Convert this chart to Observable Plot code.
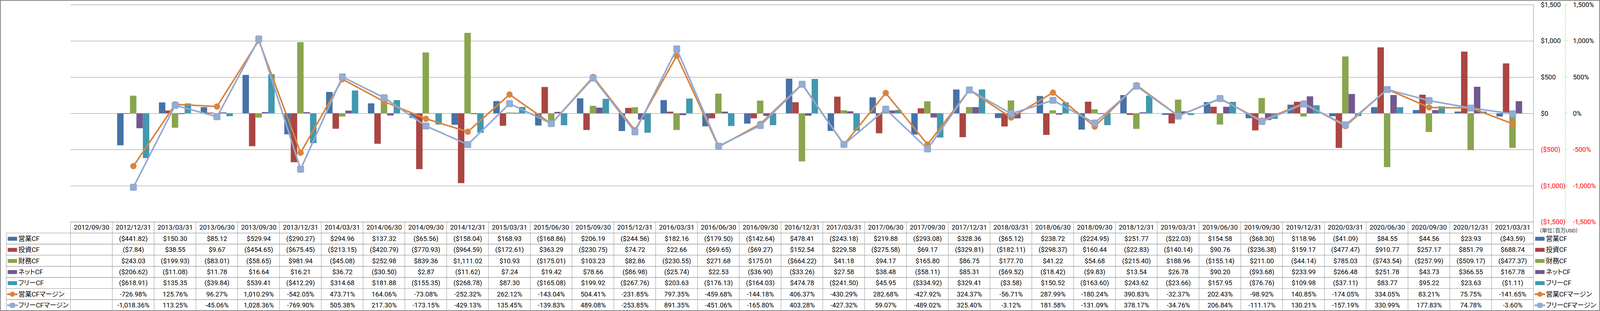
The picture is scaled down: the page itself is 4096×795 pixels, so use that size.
<!DOCTYPE html>
<html><head><meta charset="utf-8">
<script src="https://cdn.jsdelivr.net/npm/d3@7"></script>
<script src="https://cdn.jsdelivr.net/npm/@observablehq/plot@0.6"></script>
<style>
html,body{margin:0;padding:0;background:#fff;}
#wrap{position:relative;width:4096px;height:795px;overflow:hidden;background:#fff;}
#wrap svg{position:absolute;left:0;top:0;}
#wrap svg text{font-feature-settings:"palt";}
#border{position:absolute;left:0;top:0;width:4096px;height:795px;box-sizing:border-box;border:2px solid #868686;pointer-events:none;}
</style></head>
<body><div id="wrap"></div>
<script>
// ---------- data ----------
const dates = ["2012/09/30","2012/12/31","2013/03/31","2013/06/30","2013/09/30","2013/12/31","2014/03/31","2014/06/30","2014/09/30","2014/12/31","2015/03/31","2015/06/30","2015/09/30","2015/12/31","2016/03/31","2016/06/30","2016/09/30","2016/12/31","2017/03/31","2017/06/30","2017/09/30","2017/12/31","2018/03/31","2018/06/30","2018/09/30","2018/12/31","2019/03/31","2019/06/30","2019/09/30","2019/12/31","2020/03/31","2020/06/30","2020/09/30","2020/12/31","2021/03/31"];
const opCF = [null,-441.82,150.30,85.12,529.94,-290.27,294.96,137.32,-65.56,-158.04,168.93,-168.86,206.19,-244.56,182.16,-179.50,-142.64,478.41,-243.18,219.88,-293.08,328.36,-65.12,238.72,-224.95,251.77,-22.03,154.58,-68.30,118.96,-41.09,84.55,44.56,23.93,-43.59];
const invCF = [null,-7.84,38.55,9.67,-454.65,-675.45,-213.15,-420.79,-770.93,-964.59,-172.61,363.29,-230.75,74.72,22.66,-69.65,-69.27,152.54,229.58,-275.58,69.17,-329.81,-182.11,-298.37,160.44,-22.83,-140.14,90.76,-236.38,159.17,-477.47,910.77,257.17,851.79,688.74];
const finCF = [null,243.03,-199.93,-83.01,-58.65,981.94,-45.08,252.98,839.36,1111.02,10.93,-175.01,103.23,82.86,-230.55,271.68,175.01,-664.22,41.18,94.17,165.80,86.75,177.70,41.22,54.68,-215.40,188.96,-155.14,211.00,-44.14,785.03,-743.54,-257.99,-509.17,-477.37];
const netCF = [null,-206.62,-11.08,11.78,16.64,16.21,36.72,-30.50,2.87,-11.62,7.24,19.42,78.66,-86.98,-25.74,22.53,-36.90,-33.26,27.58,38.48,-58.11,85.31,-69.52,-18.42,-9.83,13.54,26.78,90.20,-93.68,233.99,266.48,251.78,43.73,366.55,167.78];
const freeCF = [null,-618.91,135.35,-39.84,539.41,-412.29,314.68,181.88,-155.35,-268.78,87.30,-165.08,199.92,-267.76,203.63,-176.13,-164.03,474.78,-241.50,45.95,-334.92,329.41,-3.58,150.52,-163.60,243.62,-23.66,157.95,-76.76,109.98,-37.11,83.77,95.22,23.63,-1.11];
const opMargin = [null,-726.98,125.76,96.27,1010.29,-542.05,473.71,164.06,-73.08,-252.32,262.12,-143.04,504.41,-231.85,797.35,-459.68,-144.18,406.37,-430.29,282.68,-427.92,324.37,-56.71,287.99,-180.24,390.83,-32.37,202.43,-98.92,140.85,-174.05,334.05,83.21,75.75,-141.65];
const freeMargin = [null,-1018.36,113.25,-45.06,1028.36,-769.90,505.38,217.30,-173.15,-429.13,135.45,-139.83,489.08,-253.85,891.35,-451.06,-165.80,403.28,-427.32,59.07,-489.02,325.40,-3.12,181.58,-131.09,378.17,-34.76,206.84,-111.17,130.21,-157.19,330.99,177.83,74.78,-3.60];
const rowNames = ["営業CF","投資CF","財務CF","ネットCF","フリーCF","営業CFマージン","フリーCFマージン"];
const rowValues = [opCF, invCF, finCF, netCF, freeCF, opMargin, freeMargin];
const rowColors = ["#4572A7","#AA4643","#89A54E","#71588F","#4198AF","#DB843D","#93A9CF"];
const yTicks = [1500, 1000, 500, 0, -500, -1000, -1500];
const unitLabel = "（単位：百万USD）";

// ---------- layout ----------
const W = 4096, H = 795;
const mL = 180.5, mR = 170.5, plotTop = 11.9, plotBottom = 567.3, tableBottom = 794.2;
const FONT = 'Roboto, "Noto Sans CJK JP", sans-serif';
const FS = 17;
const bandW = (W - mL - mR) / dates.length;
const barW = bandW / 6.5;
const inset = (bandW - barW) / 2;
const GRID = "#8c8c8c";

const f2 = d3.format(",.2f"), f0 = d3.format(",");
const fmtUSD = v => v < 0 ? `($${f2(-v)})` : `$${f2(v)}`;
const fmtPct = v => (v < 0 ? "-" : "") + f2(Math.abs(v)) + "%";
const tickUSD = v => v < 0 ? `($${f0(-v)})` : `$${f0(v)}`;
const tickPct = v => (v < 0 ? "-" : "") + f0(Math.abs(v)) + "%";

const pts = vals => dates.map((date, j) => ({date, v: vals[j]}));
const defined = vals => pts(vals).filter(d => d.v != null);

// symbols
function roundRect(w, h, r) {
  return {draw(ctx) {
    const x0 = -w/2, y0 = -h/2, x1 = w/2, y1 = h/2;
    ctx.moveTo(x0 + r, y0);
    ctx.lineTo(x1 - r, y0); ctx.arcTo(x1, y0, x1, y0 + r, r);
    ctx.lineTo(x1, y1 - r); ctx.arcTo(x1, y1, x1 - r, y1, r);
    ctx.lineTo(x0 + r, y1); ctx.arcTo(x0, y1, x0, y1 - r, r);
    ctx.lineTo(x0, y0 + r); ctx.arcTo(x0, y0, x0 + r, y0, r);
    ctx.closePath();
  }};
}
const rectKey = roundRect(24, 10, 0);
function lineKey(kind) {
  const bar = roundRect(28, 4.6, 2.3);
  const sq = roundRect(13, 13, 2.5);
  return {draw(ctx) {
    bar.draw(ctx);
    if (kind === "circle") { ctx.moveTo(6.6, 0); ctx.arc(0, 0, 6.6, 0, 2 * Math.PI); ctx.closePath(); }
    else sq.draw(ctx);
  }};
}

// ---------- chart ----------
const barMarks = [0,1,2,3,4].map(i => Plot.barY(defined(rowValues[i]), {
  x: "date", y: "v", fill: rowColors[i], insetLeft: inset, insetRight: inset, dx: (i - 2) * barW
}));
const posT = yTicks.filter(t => t >= 0), negT = yTicks.filter(t => t < 0);
const axisOpts = {anchor: "right", tickSize: 0, textAnchor: "start", fontSize: FS, label: null};

const chart = Plot.plot({
  width: W, height: H,
  marginTop: plotTop, marginBottom: H - plotBottom, marginLeft: mL, marginRight: mR,
  x: {domain: dates, padding: 0, round: false, axis: null},
  y: {domain: [-1500, 1500], label: null},
  style: {background: "transparent", fontFamily: FONT, fontSize: FS + "px", color: "#000"},
  marks: [
    Plot.gridY(yTicks, {stroke: GRID, strokeOpacity: 1, strokeWidth: 1}),
    ...barMarks,
    Plot.line(pts(opMargin), {x: "date", y: "v", stroke: "#DB843D", strokeWidth: 4, strokeLinejoin: "round", strokeLinecap: "round"}),
    Plot.dot(defined(opMargin), {x: "date", y: "v", r: 8, symbol: "circle", fill: "#DB843D", stroke: "none"}),
    Plot.line(pts(freeMargin), {x: "date", y: "v", stroke: "#93A9CF", strokeWidth: 4, strokeLinejoin: "round", strokeLinecap: "round"}),
    Plot.dot(defined(freeMargin), {x: "date", y: "v", r: 8, symbol: roundRect(16.5, 16.5, 3), fill: "#95ACD3", stroke: "#8CA4CD", strokeWidth: 1.2}),
    Plot.axisY(posT, {...axisOpts, tickPadding: 18.5, tickFormat: tickUSD, fill: "#000"}),
    Plot.axisY(negT, {...axisOpts, tickPadding: 18.5, tickFormat: tickUSD, fill: "#FF0000"}),
    Plot.axisY(posT, {...axisOpts, tickPadding: 100.8, tickFormat: tickPct, fill: "#000"}),
    Plot.axisY(negT, {...axisOpts, tickPadding: 100.8, tickFormat: tickPct, fill: "#FF0000"})
  ]
});

// ---------- data table ----------
const cells = [];
rowNames.forEach((row, i) => dates.forEach((date, j) => {
  const v = rowValues[i][j];
  cells.push({row, date, v, label: v == null ? "" : (i < 5 ? fmtUSD(v) : fmtPct(v))});
}));
const legendLeft = [], legendRight = [];
rowNames.forEach((name, i) => {
  const sym = i < 5 ? rectKey : lineKey(i === 5 ? "circle" : "square");
  legendLeft.push(Plot.dot([name], {y: d => d, frameAnchor: "left", dx: -149.3, r: 5, symbol: sym, fill: rowColors[i], stroke: "none"}));
  legendRight.push(Plot.dot([name], {y: d => d, frameAnchor: "right", dx: 16.1, r: 5, symbol: sym, fill: rowColors[i], stroke: "none"}));
});

const table = Plot.plot({
  width: W, height: H,
  marginTop: plotBottom, marginBottom: H - tableBottom, marginLeft: mL, marginRight: mR,
  x: {domain: dates, padding: 0, round: false, axis: null},
  y: {domain: ["hdr", ...rowNames], padding: 0, round: false, axis: null},
  style: {background: "transparent", fontFamily: FONT, fontSize: FS + "px", color: "#000"},
  marks: [
    Plot.cell(dates, {x: d => d, y: () => "hdr", fill: "none", stroke: "#999", strokeWidth: 1}),
    Plot.cell(cells, {x: "date", y: "row", fill: "none", stroke: "#999", strokeWidth: 1}),
    Plot.text(dates, {x: d => d, y: () => "hdr", text: d => d, fontSize: FS}),
    Plot.text(cells.filter(c => c.v != null), {x: "date", y: "row", text: "label", fontSize: FS}),
    Plot.text(rowNames, {y: d => d, text: d => d, frameAnchor: "left", dx: -134.1, textAnchor: "start", fontSize: FS}),
    Plot.text(rowNames, {y: d => d, text: d => d, frameAnchor: "right", dx: 31.5, textAnchor: "start", fontSize: FS}),
    Plot.text([unitLabel], {y: () => "hdr", text: d => d, frameAnchor: "right", dx: 14.5, dy: 7.4, textAnchor: "start", fontSize: 13.5, fill: "#222"}),
    ...legendLeft, ...legendRight
  ]
});

const wrap = document.getElementById("wrap");
wrap.appendChild(chart);
wrap.appendChild(table);
const border = document.createElement("div"); border.id = "border"; wrap.appendChild(border);

// axis decorations (plot right border, secondary axis line)
const ysD = chart.scale("y");
const ys = d3.scaleLinear(ysD.domain, ysD.range);
const sc = d3.select(chart);
sc.append("line").attr("x1", W - mR).attr("x2", W - mR).attr("y1", ys(1500)).attr("y2", ys(-1500)).attr("stroke", GRID).attr("stroke-width", 1);
const gx = 4007.1;
sc.append("line").attr("x1", gx).attr("x2", gx).attr("y1", ys(1500)).attr("y2", ys(-1500))
  .attr("stroke", "#00FF00").attr("stroke-width", 1).attr("stroke-dasharray", "2.5,2");
yTicks.forEach(t => sc.append("line").attr("x1", gx).attr("x2", gx + 5.7).attr("y1", ys(t)).attr("y2", ys(t))
  .attr("stroke", "#00FF00").attr("stroke-width", 1).attr("stroke-dasharray", "2,1.5"));

// legend column grid of the data table
const tyD = table.scale("y");
const ty = d3.scaleBand(tyD.domain, tyD.range).padding(0);
const st = d3.select(table);
rowNames.forEach(name => st.append("rect").attr("x", 16.1).attr("y", ty(name)).attr("width", mL - 16.1)
  .attr("height", ty.bandwidth()).attr("fill", "none").attr("stroke", "#999").attr("stroke-width", 1));
</script>
</body></html>
